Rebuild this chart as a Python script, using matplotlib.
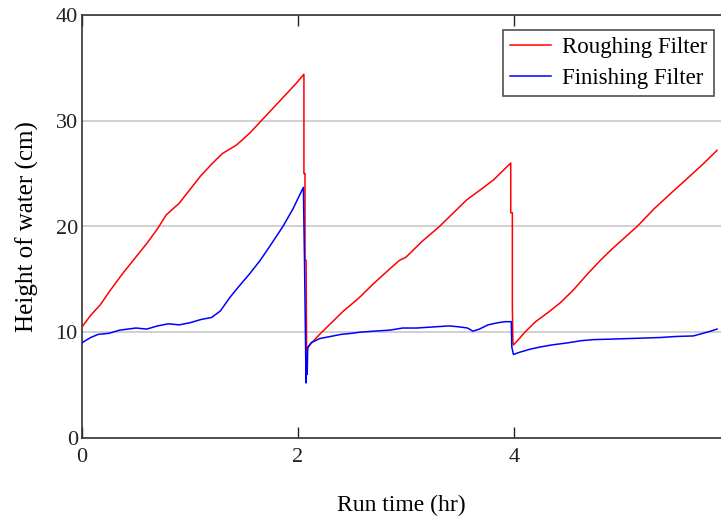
import matplotlib.pyplot as plt

# Roughing filter (red) : run time (hr), height of water (cm)
rough_t = [0, 0.08, 0.17, 0.25, 0.38, 0.49, 0.6, 0.7, 0.78, 0.9, 1.0, 1.1,
           1.21, 1.3, 1.43, 1.55, 1.66, 1.77, 1.88, 1.98, 2.055,
           2.055, 2.065, 2.065, 2.075, 2.078, 2.08, 2.09,
           2.1, 2.2, 2.3, 2.42, 2.56, 2.7, 2.84, 2.94, 3.0, 3.15, 3.31, 3.44,
           3.56, 3.68, 3.81, 3.9, 3.97,
           3.97, 3.985, 3.985, 3.99, 3.995,
           4.05, 4.1, 4.2, 4.32, 4.43, 4.55, 4.68, 4.8, 4.9, 5.02, 5.14, 5.3,
           5.47, 5.6, 5.75, 5.88]
rough_h = [10.5, 11.6, 12.6, 13.8, 15.6, 17.0, 18.4, 19.8, 21.1, 22.2, 23.5, 24.8,
           26.0, 26.9, 27.7, 28.8, 30.0, 31.2, 32.4, 33.5, 34.4,
           25.0, 25.0, 16.8, 16.8, 11.3, 7.7, 8.6,
           8.7, 9.8, 10.8, 12.0, 13.2, 14.6, 15.9, 16.8, 17.1, 18.6, 20.0, 21.3,
           22.5, 23.4, 24.4, 25.3, 26.0,
           21.3, 21.3, 12.4, 9.0, 8.8,
           9.4, 10.0, 11.0, 11.9, 12.8, 14.0, 15.5, 16.8, 17.8, 18.9, 20.0, 21.7,
           23.3, 24.5, 25.9, 27.2]

# Finishing filter (blue)
finish_t = [0, 0.03, 0.08, 0.15, 0.25, 0.35, 0.5, 0.6, 0.7, 0.8, 0.9, 1.0,
            1.1, 1.2, 1.28, 1.37, 1.45, 1.55, 1.65, 1.75, 1.86, 1.95, 2.05,
            2.06, 2.07, 2.074, 2.08, 2.085, 2.09,
            2.12, 2.2, 2.3, 2.4, 2.5, 2.57, 2.7, 2.85, 2.97, 3.1, 3.25, 3.4,
            3.5, 3.57, 3.62, 3.68, 3.76, 3.85, 3.92, 3.975,
            3.98, 3.995,
            4.05, 4.15, 4.24, 4.35, 4.5, 4.62, 4.73, 4.9, 5.05, 5.2, 5.35, 5.5,
            5.66, 5.75, 5.82, 5.88]
finish_h = [9.0, 9.2, 9.5, 9.8, 9.9, 10.2, 10.4, 10.3, 10.6, 10.8, 10.7, 10.9,
            11.2, 11.4, 12.0, 13.3, 14.3, 15.5, 16.8, 18.3, 20.0, 21.6, 23.7,
            17.0, 9.0, 5.2, 7.8, 6.0, 8.5,
            9.0, 9.4, 9.6, 9.8, 9.9, 10.0, 10.1, 10.2, 10.4, 10.4, 10.5, 10.6,
            10.5, 10.4, 10.1, 10.3, 10.7, 10.9, 11.0, 11.0,
            8.6, 7.9,
            8.1, 8.4, 8.6, 8.8, 9.0, 9.2, 9.3, 9.35, 9.4, 9.45, 9.5, 9.6,
            9.65, 9.9, 10.1, 10.3]

x_ticks = [0, 2, 4]
y_ticks = [0, 10, 20, 30, 40]

plt.rcParams['font.family'] = ['Liberation Serif', 'DejaVu Serif']

fig = plt.figure(figsize=(7.21, 5.25), dpi=100)
ax = fig.add_axes([82 / 721, 87 / 525, 639 / 721, 423 / 525])

ax.plot(rough_t, rough_h, color='red', lw=1.1, label='Roughing Filter', zorder=3)
ax.plot(finish_t, finish_h, color='blue', lw=1.1, label='Finishing Filter', zorder=3)

ax.set_xlim(0, 5.917)
ax.set_ylim(0, 40)
ax.set_xticks(x_ticks)
ax.set_yticks(y_ticks)
ax.tick_params(axis='x', direction='in', length=8, width=1, top=True,
               labelsize=16, pad=7, colors='#222222')
ax.tick_params(axis='y', length=0, labelsize=16, pad=3, colors='#222222')
for lbl in ax.get_yticklabels():
    lbl.set_va('center_baseline')

# light grey horizontal grid only
ax.yaxis.grid(True, color='#c8c8c8', lw=1.2)
ax.set_axisbelow(True)

for side in ['left', 'bottom', 'top']:
    ax.spines[side].set_color('#333333')
    ax.spines[side].set_linewidth(1.2)
ax.spines['right'].set_visible(False)

ax.set_xlabel('Run time (hr)', fontsize=17, labelpad=20)
ax.set_ylabel('Height of water (cm)', fontsize=18, labelpad=12)

leg = ax.legend(loc='upper right', bbox_to_anchor=(0.989, 0.965), fontsize=16.5,
                frameon=True, fancybox=False, edgecolor='#222222',
                handlelength=1.8, handletextpad=0.45, borderpad=0.3,
                labelspacing=0.45, borderaxespad=0)
leg.get_frame().set_linewidth(1.2)

fig.savefig('out.png', dpi=100)
